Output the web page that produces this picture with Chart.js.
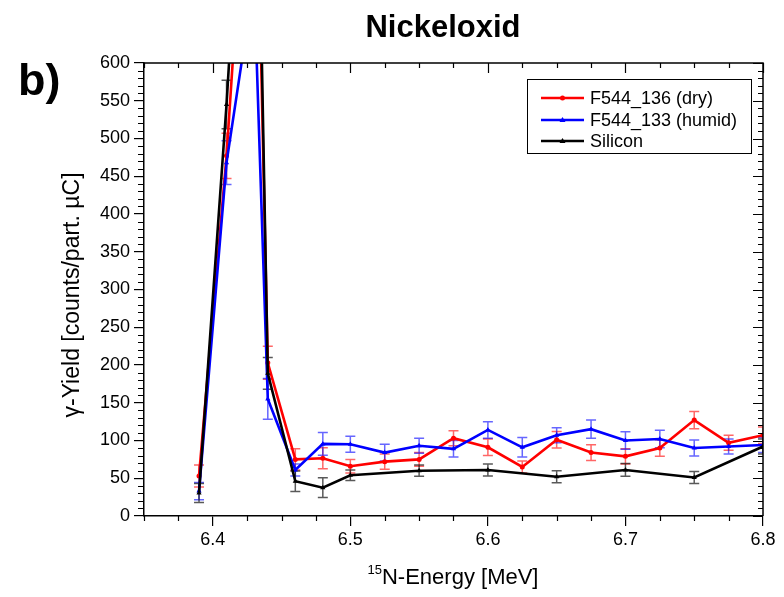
<!DOCTYPE html>
<html><head><meta charset="utf-8">
<script src="https://cdn.jsdelivr.net/npm/chart.js@4.4.1/dist/chart.umd.min.js"></script>
<style>html,body{margin:0;padding:0;background:#fff}#wrap{width:784px;height:597px;position:relative}</style>
</head><body><div id="wrap"><canvas id="c" width="784" height="597"></canvas></div>
<script>
// ---- data ----
const energySample = [6.39, 6.41, 6.43, 6.44, 6.46, 6.48, 6.5, 6.525, 6.55, 6.575, 6.6, 6.625, 6.65, 6.675, 6.7, 6.725, 6.75, 6.775, 6.8];
const dryYield   = [53, 477, 1030, 203, 75, 76.5, 66, 72, 75, 103, 91, 65, 101, 84, 79, 90, 127, 97, 107];
const dryErr     = [14.5, 30, 40, 22, 14, 14, 9, 10, 9, 10, 11, 8, 11, 10.5, 10, 11, 11.5, 10, 11];
const humidYield = [33, 468, 710, 155, 61, 95.5, 95, 84, 93, 89, 114, 91, 107, 115, 100, 102, 90, 92, 94];
const humidErr   = [11.5, 29, 35, 27, 8, 15, 10.5, 11, 10, 11, 11, 13, 10, 12, 11.5, 11.5, 10.5, 10, 10];
const energySilicon = [6.39, 6.41, 6.43, 6.44, 6.46, 6.48, 6.5, 6.55, 6.6, 6.65, 6.7, 6.75, 6.8];
const siliconYield  = [30.5, 545, 1150, 189, 46, 37.5, 54, 60, 61, 52, 61, 51, 92];
const siliconErr    = [12.5, 32, 45, 21, 13.5, 13, 7, 7.5, 8, 8, 8.5, 8, 10];
const seriesLabels = ['F544_136 (dry)', 'F544_133 (humid)', 'Silicon'];
const xTickValues = [6.4, 6.5, 6.6, 6.7, 6.8];
const yTickValues = [0, 50, 100, 150, 200, 250, 300, 350, 400, 450, 500, 550, 600];

const FONT = '"Liberation Sans", Arial, sans-serif';
const colors = ['#ff0000', '#0000ff', '#000000'];
const errColors = ['rgba(255,0,0,0.6)', 'rgba(0,0,255,0.6)', 'rgba(0,0,0,0.65)'];
const pts = (xs, ys) => xs.map((x, i) => ({x: x, y: ys[i]}));
const seriesX = [energySample, energySample, energySilicon];
const seriesY = [dryYield, humidYield, siliconYield];
const seriesE = [dryErr, humidErr, siliconErr];
const pointStyles = ['circle', 'triangle', 'triangle'];

const errPlugin = {
  id: 'errbars',
  beforeDatasetsDraw(chart) {
    const {ctx, chartArea: a, scales: {x, y}} = chart;
    ctx.save();
    ctx.beginPath(); ctx.rect(a.left, a.top, a.right - a.left, a.bottom - a.top); ctx.clip();
    for (let s = 0; s < 3; s++) {
      ctx.strokeStyle = errColors[s]; ctx.lineWidth = 1.5;
      seriesX[s].forEach((xv, i) => {
        const px = x.getPixelForValue(xv);
        const t = y.getPixelForValue(seriesY[s][i] + seriesE[s][i]);
        const b = y.getPixelForValue(seriesY[s][i] - seriesE[s][i]);
        ctx.beginPath();
        ctx.moveTo(px, t); ctx.lineTo(px, b);
        ctx.moveTo(px - 5, t); ctx.lineTo(px + 5, t);
        ctx.moveTo(px - 5, b); ctx.lineTo(px + 5, b);
        ctx.stroke();
      });
    }
    ctx.restore();
  }
};

const decoPlugin = {
  id: 'deco',
  afterDraw(chart) {
    const {ctx, chartArea: a, scales: {x, y}} = chart;
    ctx.save();
    ctx.strokeStyle = '#000'; ctx.lineWidth = 1.5;
    // top and right frame
    ctx.beginPath();
    ctx.moveTo(a.left, a.top); ctx.lineTo(a.right, a.top); ctx.lineTo(a.right, a.bottom);
    ctx.stroke();
    ctx.lineWidth = 1.2;
    ctx.beginPath();
    // x ticks: minors on bottom (outward), majors+minors on top (inward)
    for (let k = 0; k <= 18; k++) {
      const v = 6.35 + k * 0.025;
      const px = Math.round(x.getPixelForValue(v)) + 0.5;
      const major = xTickValues.some(t => Math.abs(t - v) < 1e-6);
      if (!major) { ctx.moveTo(px, a.bottom); ctx.lineTo(px, a.bottom + 5); }
      const l = major ? 10 : 5;
      ctx.moveTo(px, a.top); ctx.lineTo(px, a.top + l);
    }
    // y ticks: minors on left (outward), majors+minors on right (inward)
    for (let v = 0; v <= 600; v += 10) {
      const py = Math.round(y.getPixelForValue(v)) + 0.5;
      const major = v % 50 === 0;
      if (!major) { ctx.moveTo(a.left, py); ctx.lineTo(a.left - 6, py); }
      const l = major ? 10 : 5;
      ctx.moveTo(a.right, py); ctx.lineTo(a.right - l, py);
    }
    ctx.stroke();

    // legend
    ctx.lineWidth = 1;
    ctx.strokeRect(527.5, 79.5, 224, 74);
    const rows = [98, 120, 141];
    ctx.font = '18px ' + FONT; ctx.textBaseline = 'middle'; ctx.fillStyle = '#000';
    rows.forEach((ry, s) => {
      ctx.strokeStyle = colors[s]; ctx.lineWidth = 2.5;
      ctx.beginPath(); ctx.moveTo(541, ry); ctx.lineTo(584, ry); ctx.stroke();
      ctx.fillStyle = colors[s];
      ctx.beginPath();
      if (s === 0) ctx.arc(562.5, ry, 2.5, 0, Math.PI * 2);
      else { ctx.moveTo(562.5, ry - 3); ctx.lineTo(565.5, ry + 2); ctx.lineTo(559.5, ry + 2); ctx.closePath(); }
      ctx.fill();
      ctx.fillStyle = '#000';
      ctx.fillText(seriesLabels[s], 590, ry + 1);
    });

    // titles
    ctx.fillStyle = '#000';
    ctx.textBaseline = 'alphabetic';
    ctx.font = 'bold 31px ' + FONT; ctx.textAlign = 'center';
    ctx.fillText('Nickeloxid', 443, 37);
    ctx.font = 'bold 45px ' + FONT; ctx.textAlign = 'left';
    ctx.fillText('b)', 18, 95);

    // x axis title with superscript
    const main = 'N-Energy [MeV]', sup = '15';
    ctx.font = '22px ' + FONT; const wm = ctx.measureText(main).width;
    ctx.font = '13px ' + FONT; const ws = ctx.measureText(sup).width;
    const x0 = 453 - (wm + ws) / 2;
    ctx.fillText(sup, x0, 574);
    ctx.font = '22px ' + FONT; ctx.fillText(main, x0 + ws, 584);

    // y axis title
    ctx.translate(79, 295); ctx.rotate(-Math.PI / 2);
    ctx.textAlign = 'center'; ctx.font = '23px ' + FONT;
    ctx.fillText('\u03B3-Yield [counts/part. \u00B5C]', 0, 0);
    ctx.restore();
  }
};

new Chart(document.getElementById('c'), {
  type: 'line',
  data: {
    datasets: [0, 1, 2].map(s => ({
      label: seriesLabels[s],
      data: pts(seriesX[s], seriesY[s]),
      borderColor: colors[s], backgroundColor: colors[s],
      borderWidth: 2.6, pointRadius: s === 0 ? 2.5 : 3, pointStyle: pointStyles[s],
      pointBorderWidth: 0, tension: 0, fill: false
    })).reverse()
  },
  options: {
    responsive: false, animation: false, devicePixelRatio: 1,
    layout: {padding: {top: 63, right: 21, left: 0, bottom: 0}},
    plugins: {legend: {display: false}, title: {display: false}, tooltip: {enabled: false}},
    scales: {
      x: {
        type: 'linear', min: 6.35, max: 6.8,
        afterBuildTicks: s => { s.ticks = xTickValues.map(v => ({value: v})); },
        afterFit: s => { s.height = 81; },
        ticks: {font: {family: FONT, size: 18}, color: '#000', padding: 3, maxRotation: 0, autoSkip: false,
                callback: v => v.toFixed(1)},
        grid: {display: true, drawOnChartArea: false, drawTicks: true, tickLength: 10, color: '#000', lineWidth: 1.2},
        border: {display: true, color: '#000', width: 1.5}
      },
      y: {
        type: 'linear', min: 0, max: 600,
        afterBuildTicks: s => { s.ticks = yTickValues.map(v => ({value: v})); },
        afterFit: s => { s.width = 144; },
        ticks: {font: {family: FONT, size: 18}, color: '#000', padding: 4, autoSkip: false},
        grid: {display: true, drawOnChartArea: false, drawTicks: true, tickLength: 10, color: '#000', lineWidth: 1.2},
        border: {display: true, color: '#000', width: 1.5}
      }
    }
  },
  plugins: [errPlugin, decoPlugin]
});
</script></body></html>
